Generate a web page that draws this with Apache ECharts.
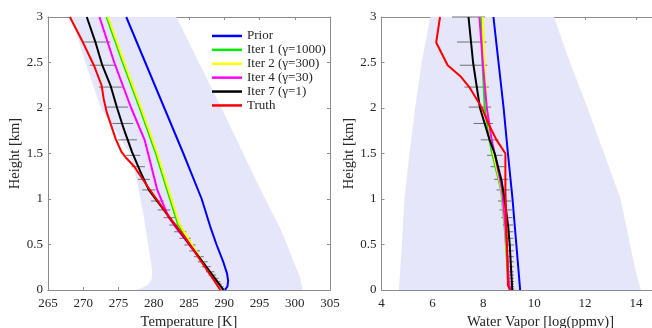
<!DOCTYPE html>
<html><head><meta charset="utf-8">
<script src="https://cdn.jsdelivr.net/npm/echarts@6/dist/echarts.min.js"></script>
<style>html,body{margin:0;padding:0;background:#fff}#c{width:652px;height:328px}</style>
</head><body><div id="c"></div>
<script>
// ---------- data: temperature panel ----------
const names = ['Prior', 'Iter 1 (\u03b3=1000)', 'Iter 2 (\u03b3=300)', 'Iter 4 (\u03b3=30)', 'Iter 7 (\u03b3=1)', 'Truth'];
const colors = ['#0000ff', '#00ee00', '#ffff00', '#ff00ff', '#000000', '#ff0000'];

const tPriorH = [3, 2.5, 2, 1.5, 1, 0.7, 0.5, 0.3, 0.18, 0.1, 0.04, 0];
const tPrior  = [276.1, 278.8, 281.5, 284.2, 286.8, 288.0, 288.9, 289.9, 290.4, 290.55, 290.45, 290.1];
const tIter12H = [3, 2.5, 2, 1.5, 1.1, 0.73, 0.55, 0.4, 0.3, 0.2, 0.1, 0];
const tIter1 = [273.3, 275.6, 278.0, 280.3, 281.9, 283.4, 284.8, 286.1, 287.0, 288.0, 288.95, 289.9];
const tIter2 = [273.5, 275.8, 278.2, 280.5, 282.1, 283.6, 285.0, 286.2, 287.0, 288.0, 288.95, 289.9];
const tIter4H = [3, 2.5, 2, 1.65, 1.5, 1.1, 0.8, 0.66, 0.55, 0.4, 0.2, 0];
const tIter4 = [272.3, 274.4, 276.8, 278.7, 279.2, 280.5, 282.1, 283.4, 284.5, 286.0, 287.95, 289.9];
const tIter7H = [3, 2.73, 2.47, 2.24, 2.0, 1.77, 1.52, 1.3, 1.1, 0.8, 0.5, 0.25, 0];
const tIter7 = [270.5, 271.7, 272.7, 273.9, 274.8, 275.75, 276.9, 278.1, 279.3, 282.2, 285.1, 287.5, 289.9];
const tTruthH = [3, 2.73, 2.47, 2.25, 2.1, 1.96, 1.66, 1.52, 1.45, 1.36, 1.14, 0.8, 0.55, 0.3, 0.11, 0];
const tTruth = [268.1, 269.9, 271.5, 272.6, 272.9, 273.3, 274.6, 275.4, 276.1, 277.2, 279.1, 282.2, 284.7, 286.85, 288.5, 289.45];

const tEnvLoH = [3, 2.5, 2, 1.7, 1.5, 1.2, 0.8, 0.4, 0.2, 0.12, 0.06, 0.02, 0];
const tEnvLo  = [268.3, 270.3, 272.5, 275.0, 276.6, 277.6, 278.6, 279.4, 279.8, 279.7, 279.2, 278.3, 277.5];
const tEnvHiH = [3, 2.5, 2, 1.5, 1, 0.7, 0.5, 0.3, 0.15, 0.05, 0];
const tEnvHi  = [283.2, 286.4, 289.6, 292.7, 295.8, 297.8, 298.9, 299.9, 300.7, 301.0, 301.1];

const tBarH = [2.725, 2.47, 2.23, 2.01, 1.83, 1.65, 1.48, 1.355, 1.216, 1.10, 0.978, 0.88, 0.795, 0.714, 0.64, 0.568, 0.495, 0.43, 0.366, 0.31, 0.256, 0.2, 0.165, 0.128, 0.092, 0.066, 0.037, 0.011];
const tBarC = [271.85, 272.8, 273.9, 274.8, 275.6, 276.3, 277.1, 277.8, 278.6, 279.3, 280.5, 281.45, 282.3, 283.05, 283.75, 284.45, 285.15, 285.8, 286.4, 286.95, 287.45, 288.0, 288.3, 288.7, 289.0, 289.25, 289.55, 289.8];
const tBarW = [2.0, 1.87, 1.7, 1.58, 1.46, 1.32, 1.0, 0.95, 0.85, 0.95, 0.9, 0.9, 0.9, 0.85, 0.85, 0.8, 0.8, 0.75, 0.7, 0.7, 0.65, 0.6, 0.55, 0.5, 0.45, 0.4, 0.35, 0.3];

// ---------- data: water vapor panel ----------
const wPriorH = [3, 2.5, 2, 1.5, 1, 0.5, 0];
const wPrior  = [8.40, 8.60, 8.80, 8.97, 9.15, 9.30, 9.45];
const wIterH = [3, 2.5, 2, 1.65, 1.5, 1.1, 0.73, 0.37, 0.06, 0];
const wIter1 = [7.92, 7.97, 8.06, 8.24, 8.35, 8.70, 8.83, 8.92, 8.99, 9.05];
const wIter2 = [7.98, 8.04, 8.14, 8.30, 8.40, 8.72, 8.85, 8.94, 9.00, 9.07];
const wIter4 = [7.85, 7.98, 8.14, 8.33, 8.45, 8.74, 8.86, 8.95, 9.01, 9.08];
const wIter7H = [3, 2.5, 2, 1.65, 1.5, 1.2, 1.0, 0.7, 0.5, 0.2, 0];
const wIter7 = [7.42, 7.60, 7.87, 8.25, 8.45, 8.72, 8.84, 8.98, 9.04, 9.10, 9.14];
const wTruthH = [3, 2.72, 2.47, 2.35, 2.23, 2.0, 1.83, 1.65, 1.5, 1.1, 0.5, 0.05, 0];
const wTruth = [6.30, 6.15, 6.60, 7.10, 7.45, 7.95, 8.20, 8.52, 8.87, 8.87, 8.93, 8.97, 9.05];

const wEnvH  = [3, 2.5, 2, 1.5, 1, 0.5, 0.2, 0];
const wEnvLo = [5.92, 5.58, 5.32, 5.10, 4.90, 4.80, 4.73, 4.68];
const wEnvHi = [10.78, 11.41, 12.10, 12.75, 13.40, 13.77, 14.00, 14.20];

const wBarH = [3.0].concat(tBarH);
const wBarC = [7.42, 7.55, 7.62, 7.74, 7.87, 8.0, 8.25, 8.45, 8.58, 8.7, 8.78, 8.84, 8.88, 8.93, 8.97, 9.0, 9.02, 9.05, 9.06, 9.07, 9.08, 9.09, 9.1, 9.1, 9.11, 9.12, 9.12, 9.13, 9.14];
const wBarW = [0.65, 0.58, 0.54, 0.48, 0.44, 0.38, 0.35, 0.30, 0.29, 0.28, 0.26, 0.26, 0.24, 0.22, 0.2, 0.18, 0.16, 0.15, 0.14, 0.13, 0.12, 0.11, 0.1, 0.1, 0.09, 0.09, 0.08, 0.08, 0.08];

// ---------- chart ----------
const FONT = 'Liberation Serif';
const AX = '#8c8c8c';
const TXT = '#262626';
const pairs = (hs, vs) => vs.map((v, i) => [v, hs[i]]);

function envRender(loH, lo, hiH, hi) {
  return function (params, api) {
    const pts = [];
    for (let i = 0; i < loH.length; i++) pts.push(api.coord([lo[i], loH[i]]));
    for (let i = hiH.length - 1; i >= 0; i--) pts.push(api.coord([hi[i], hiH[i]]));
    return { type: 'polygon', shape: { points: pts }, style: { fill: '#e6e6fa' } };
  };
}
function barRender(params, api) {
  const c = api.value(0), h = api.value(1), w = api.value(2);
  const p1 = api.coord([c - w, h]), p2 = api.coord([c + w, h]);
  return { type: 'line', shape: { x1: p1[0], y1: p1[1], x2: p2[0], y2: p2[1] },
           style: { stroke: '#707070', lineWidth: 1 } };
}
function xAxis(grid, min, max, interval, pos, name) {
  const main = pos === 'bottom';
  return {
    type: 'value', gridIndex: grid, position: pos, min, max, interval,
    name: main ? name : '', nameLocation: 'middle', nameGap: 22,
    nameTextStyle: { fontFamily: FONT, fontSize: 14.5, color: TXT },
    axisLine: { onZero: false, lineStyle: { color: AX, width: 1 } },
    axisTick: { inside: true, length: 3, lineStyle: { color: AX } },
    axisLabel: { show: main, fontFamily: FONT, fontSize: 13, color: TXT, margin: 7 },
    splitLine: { show: false }
  };
}
function yAxis(grid, pos) {
  const main = pos === 'left';
  return {
    type: 'value', gridIndex: grid, position: pos, min: 0, max: 3, interval: 0.5,
    name: main ? 'Height [km]' : '', nameLocation: 'middle', nameGap: 24,
    nameTextStyle: { fontFamily: FONT, fontSize: 14.5, color: TXT },
    axisLine: { onZero: false, lineStyle: { color: AX, width: 1 } },
    axisTick: { inside: true, length: 3, lineStyle: { color: AX } },
    axisLabel: { show: main, fontFamily: FONT, fontSize: 13, color: TXT, margin: 5 },
    splitLine: { show: false }
  };
}
function lineSeries(name, color, data, xi, yi) {
  return { type: 'line', name, data, xAxisIndex: xi, yAxisIndex: yi, symbol: 'none',
           smooth: false, lineStyle: { color, width: 2, join: 'round' }, itemStyle: { color },
           z: 3, animation: false };
}

const chart = echarts.init(document.getElementById('c'), null, { renderer: 'canvas' });
const series = [
  { type: 'custom', xAxisIndex: 0, yAxisIndex: 0, data: [[tEnvLo[0], tEnvLoH[0]]], encode: { x: 0, y: 1 },
    renderItem: envRender(tEnvLoH, tEnvLo, tEnvHiH, tEnvHi), silent: true, z: 1 },
  { type: 'custom', xAxisIndex: 2, yAxisIndex: 2, data: [[wEnvLo[0], wEnvH[0]]], encode: { x: 0, y: 1 },
    renderItem: envRender(wEnvH, wEnvLo, wEnvH, wEnvHi), silent: true, z: 1 },
  { type: 'custom', xAxisIndex: 0, yAxisIndex: 0, data: tBarH.map((h, i) => [tBarC[i], h, tBarW[i]]),
    encode: { x: 0, y: 1 }, renderItem: barRender, silent: true, z: 2 },
  { type: 'custom', xAxisIndex: 2, yAxisIndex: 2, data: wBarH.map((h, i) => [wBarC[i], h, wBarW[i]]),
    encode: { x: 0, y: 1 }, renderItem: barRender, silent: true, z: 2 },
  lineSeries(names[0], colors[0], pairs(tPriorH, tPrior), 0, 0),
  lineSeries(names[1], colors[1], pairs(tIter12H, tIter1), 0, 0),
  lineSeries(names[2], colors[2], pairs(tIter12H, tIter2), 0, 0),
  lineSeries(names[3], colors[3], pairs(tIter4H, tIter4), 0, 0),
  lineSeries(names[4], colors[4], pairs(tIter7H, tIter7), 0, 0),
  lineSeries(names[5], colors[5], pairs(tTruthH, tTruth), 0, 0),
  lineSeries(names[0], colors[0], pairs(wPriorH, wPrior), 2, 2),
  lineSeries(names[1], colors[1], pairs(wIterH, wIter1), 2, 2),
  lineSeries(names[2], colors[2], pairs(wIterH, wIter2), 2, 2),
  lineSeries(names[3], colors[3], pairs(wIterH, wIter4), 2, 2),
  lineSeries(names[4], colors[4], pairs(wIter7H, wIter7), 2, 2),
  lineSeries(names[5], colors[5], pairs(wTruthH, wTruth), 2, 2)
];

chart.setOption({
  animation: false,
  backgroundColor: '#ffffff',
  grid: [
    { left: 48, top: 17, width: 282, height: 273, outerBoundsMode: 'none' },
    { left: 381.5, top: 17, width: 318, height: 273, outerBoundsMode: 'none' }
  ],
  xAxis: [
    xAxis(0, 265, 305, 5, 'bottom', 'Temperature [K]'),
    xAxis(0, 265, 305, 5, 'top', ''),
    xAxis(1, 4, 16.5, 2, 'bottom', 'Water Vapor [log(ppmv)]'),
    xAxis(1, 4, 16.5, 2, 'top', '')
  ],
  yAxis: [yAxis(0, 'left'), yAxis(0, 'right'), yAxis(1, 'left'), yAxis(1, 'right')],
  legend: {
    data: names.map(n => ({ name: n, icon: 'rect' })), orient: 'vertical', left: 207, top: 24,
    itemWidth: 30, itemHeight: 2.5, itemGap: 0,
    textStyle: { fontFamily: FONT, fontSize: 13, color: TXT, lineHeight: 13.9 },
    selectedMode: false
  },
  series
});
</script></body></html>
